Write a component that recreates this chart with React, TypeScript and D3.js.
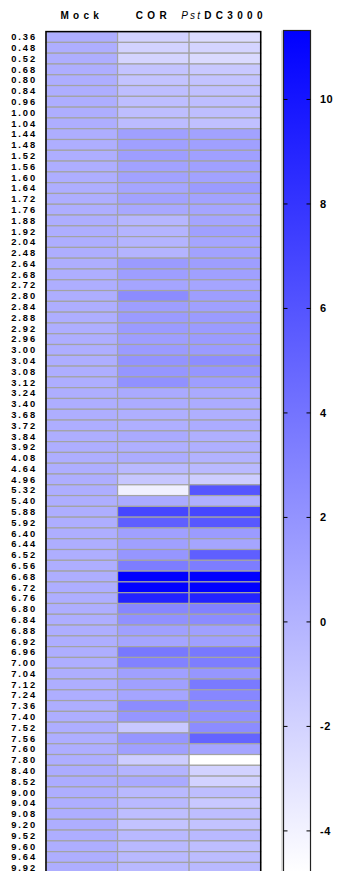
import React from "react";
import * as d3 from "d3";

const rowLabels = ["0.36","0.48","0.52","0.68","0.80","0.84","0.96","1.00","1.04","1.44","1.48","1.52","1.56","1.60","1.64","1.72","1.76","1.88","1.92","2.04","2.48","2.64","2.68","2.72","2.80","2.84","2.88","2.92","2.96","3.00","3.04","3.08","3.12","3.24","3.40","3.68","3.72","3.84","3.92","4.08","4.64","4.96","5.32","5.40","5.88","5.92","6.40","6.44","6.52","6.56","6.68","6.72","6.76","6.80","6.84","6.88","6.92","6.96","7.00","7.04","7.12","7.24","7.36","7.40","7.52","7.56","7.60","7.80","8.40","8.52","9.00","9.04","9.08","9.20","9.52","9.60","9.64","9.92"];

const mockValues = [0.3,0.3,0.3,0.3,0.3,0.3,0.3,0.3,0.3,0.3,0.3,0.3,0.3,0.3,0.3,0.3,0.3,0.3,0.3,0.3,0.3,0.3,0.3,0.3,0.3,0.3,0.3,0.3,0.3,0.3,0.3,0.3,0.3,0.3,0.3,0.3,0.3,0.3,0.3,0.3,0.3,0.3,0.3,0.3,0.3,0.3,0.3,0.3,0.3,0.3,0.3,0.3,0.3,0.3,0.3,0.3,0.3,0.3,0.3,0.3,0.3,0.3,0.3,0.3,0.3,0.3,0.3,0.3,0.45,0.45,0.3,0.3,0.3,0.3,0.3,0.3,0.3,0.3];

const corValues = [-1.96,-1.96,-2.09,-1.01,-1.01,-0.70,-0.70,-0.70,-0.57,1.20,1.20,1.33,1.07,1.07,0.88,1.07,0.70,-0.19,-0.07,-0.07,-0.07,1.52,1.33,0.88,2.47,1.33,1.52,1.52,1.33,1.52,1.96,1.83,2.15,0.57,0.44,0.25,0.25,0.57,0.25,0.44,-0.38,-1.20,-3.86,0.57,6.89,5.31,1.20,1.20,1.83,3.41,11.32,11.2,9.11,2.78,2.15,1.20,0.88,3.73,3.10,1.20,1.20,0.88,2.47,1.83,-1.33,1.83,1.20,-1.65,-0.07,0.57,-0.38,-0.38,-0.70,-1.01,-0.38,-0.38,-0.38,-0.38];

const pstValues = [-2.60,-2.09,-2.47,-1.33,-1.01,-0.82,-0.70,-0.70,-0.82,1.07,1.20,1.20,1.20,1.07,1.52,1.07,0.88,0.88,1.20,0.88,1.07,1.33,1.20,0.88,1.33,1.20,1.52,1.52,1.52,1.52,2.34,1.83,1.33,0.57,0.44,0.25,0.44,0.25,0.25,0.06,-0.38,-1.65,5.94,0.25,6.89,5.75,1.52,0.88,5.31,3.41,11.32,11.32,9.11,3.10,2.47,1.20,1.20,3.73,3.41,1.83,3.60,2.78,2.47,2.15,2.47,5.0,0.88,-4.81,-1.96,-1.96,-0.70,-1.33,-0.70,-1.01,-0.38,-0.70,-0.57,-0.38];

const columnKeys = ["Mock", "COR", "Pst"];
const colorTicks = [-4, -2, 0, 2, 4, 6, 8, 10];
const vMin = -4.81;
const vMax = 11.32;

export default function App() {
  const left = 46, right = 260.7, top = 31.6, rowH = 10.79;
  const bottom = top + rowH * rowLabels.length;
  const series = [mockValues, corValues, pstValues];

  const x = d3.scaleBand<string>().domain(columnKeys).range([left, right]);
  const y = d3.scaleBand<string>().domain(rowLabels).range([top, bottom]);
  const color = d3.scaleLinear<string>().domain([vMin, vMax]).range(["#ffffff", "#0000ff"]);

  const cbX0 = 283.5, cbX1 = 310.5;
  const cbY = d3.scaleLinear().domain([vMin, vMax]).range([bottom, 30.5]);

  const font = "'Liberation Sans', Arial, sans-serif";

  return (
    <svg width={338} height={871} style={{ position: "absolute", left: 0, top: 0 }} fontFamily={font}>
      <defs>
        <linearGradient id="cbgrad" x1="0" y1="1" x2="0" y2="0">
          <stop offset="0%" stopColor={color(vMin)} />
          <stop offset="100%" stopColor={color(vMax)} />
        </linearGradient>
      </defs>
      {/* headers */}
      <text x={x("Mock")! + x.bandwidth() / 2} y={19} textAnchor="middle" fontSize={10} fontWeight="bold" letterSpacing={4.3}>Mock</text>
      <text x={x("COR")! + x.bandwidth() / 2} y={19} textAnchor="middle" fontSize={10} fontWeight="bold" letterSpacing={4.3}>COR</text>
      <text x={224} y={19} textAnchor="middle" fontSize={10} letterSpacing={2.2}>
        <tspan fontStyle="italic">Pst</tspan>
        <tspan dx={2} fontWeight="bold" letterSpacing={4.3}>DC3000</tspan>
      </text>
      {/* cells */}
      {series.map((vals, ci) =>
        vals.map((v, ri) => (
          <rect key={`${ci}-${ri}`} x={x(columnKeys[ci])} y={y(rowLabels[ri])} width={x.bandwidth()} height={y.bandwidth()}
            fill={color(v)} stroke="#a3a3a3" strokeWidth={1.2} />
        ))
      )}
      <rect x={left} y={top} width={right - left} height={bottom - top} fill="none" stroke="#000" strokeWidth={1.5} />
      {/* row labels */}
      {rowLabels.map((l) => (
        <text key={l} x={37} y={y(l)! + y.bandwidth() / 2 + 3.3} textAnchor="end" fontSize={9.3} fontWeight="bold" letterSpacing={1.9}>{l}</text>
      ))}
      {/* colorbar */}
      <line x1={cbX0 - 1.5} x2={cbX0 - 1.5} y1={30.5} y2={bottom} stroke="#bbb" strokeWidth={1} />
      <rect x={cbX0} y={30.5} width={cbX1 - cbX0} height={bottom - 30.5} fill="url(#cbgrad)" stroke="#222" strokeWidth={1.2} />
      {colorTicks.map((t) => (
        <g key={t}>
          <line x1={cbX0} x2={cbX0 + 4} y1={cbY(t)} y2={cbY(t)} stroke="#000" strokeWidth={1} />
          <line x1={cbX1 - 4} x2={cbX1} y1={cbY(t)} y2={cbY(t)} stroke="#000" strokeWidth={1} />
          <text x={320} y={cbY(t) + 4} fontSize={11} fontWeight="bold" letterSpacing={0.5}>{t}</text>
        </g>
      ))}
    </svg>
  );
}
